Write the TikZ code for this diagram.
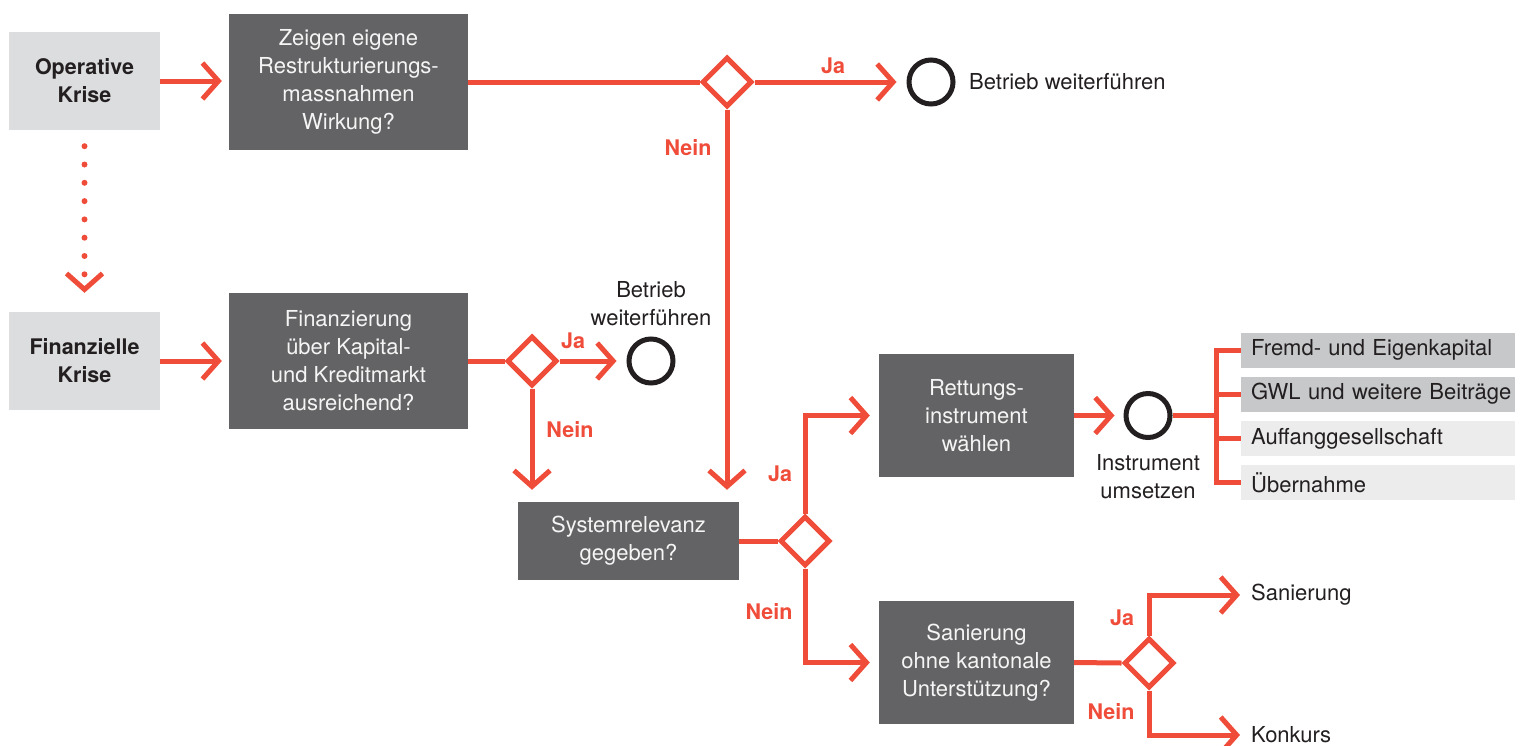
\documentclass[tikz,border=0pt]{standalone}
\usepackage{fontspec}
\setmainfont{TeX Gyre Heros}
\usetikzlibrary{arrows.meta,shapes.geometric}
\definecolor{redc}{RGB}{239,76,58}
\definecolor{darkbox}{RGB}{99,99,101}
\definecolor{lightbox}{RGB}{220,221,223}
\definecolor{midbox}{RGB}{199,200,202}
\definecolor{palebox}{RGB}{236,236,237}
\definecolor{txt}{RGB}{35,31,32}
\definecolor{boxtxt}{RGB}{245,245,245}
\tikzset{
  x=1pt, y=-1pt,
  every node/.style={font=\fontsize{22}{28}\selectfont, text=txt},
  crisis/.style={fill=lightbox, minimum width=151pt, minimum height=98pt, align=center, font=\fontsize{21.5}{28}\selectfont\bfseries, inner sep=0pt},
  qbox/.style={fill=darkbox, align=center, text=boxtxt, inner sep=0pt},
  dec/.style={draw=redc, line width=5pt, shape=diamond, aspect=1, minimum width=50pt, minimum height=50pt, inner sep=0pt, fill=white},
  endc/.style={draw=txt, line width=5pt, circle, minimum size=44pt, inner sep=0pt},
  flow/.style={draw=redc, line width=5pt},
  arr/.style={flow, -{Straight Barb[length=16pt,width=36pt]}},
  yes/.style={text=redc, font=\fontsize{21.5}{28}\selectfont\bfseries, inner sep=0pt},
  opt/.style={anchor=west, minimum height=35pt, inner xsep=10pt, inner ysep=0pt, text width=254pt, align=left},
  plain/.style={inner sep=0pt, align=center},
  dotline/.style={draw=redc, line width=6pt, line cap=round, dash pattern=on 0pt off 18.3pt}
}
\begin{document}
\begin{tikzpicture}
\useasboundingbox (0,0) rectangle (1522,745);
% crisis boxes
\node[crisis] (op) at (84.5,81) {Operative\\Krise};
\node[crisis] (fin) at (84.5,361) {Finanzielle\\Krise};
% question boxes
\node[qbox, minimum width=239pt, minimum height=136pt] (zeig) at (348.5,82) {Zeigen eigene\\Restrukturierungs-\\massnahmen\\Wirkung?};
\node[qbox, minimum width=239pt, minimum height=136pt] (finq) at (348.5,361) {Finanzierung\\über Kapital-\\und Kreditmarkt\\ausreichend?};
\node[qbox, minimum width=221pt, minimum height=78pt] (sys) at (628.5,541) {Systemrelevanz\\gegeben?};
\node[qbox, minimum width=195pt, minimum height=123pt] (rett) at (976.5,415.5) {Rettungs-\\instrument\\wählen};
\node[qbox, minimum width=195pt, minimum height=123pt] (san) at (976.5,662.5) {Sanierung\\ohne kantonale\\Unterstützung?};
% decisions
\node[dec] (d1) at (727,82) {};
\node[dec] (d2) at (532,361) {};
\node[dec] (d3) at (805,541) {};
\node[dec] (d4) at (1149,663) {};
% end circles
\node[endc] (c1) at (931,82) {};
\node[endc] (c2) at (651,361) {};
\node[endc] (c3) at (1148,415.5) {};
% texts
\node[plain, anchor=west] (bw1) at (969,82) {Betrieb weiterführen};
\node[plain] (bw2) at (651,304) {Betrieb\\weiterführen};
\node[plain] (ins) at (1148,477) {Instrument\\umsetzen};
\node[plain, anchor=west] (sant) at (1251,595) {Sanierung};
\node[plain, anchor=west] (konk) at (1251,735) {Konkurs};
% option boxes
\node[opt, fill=midbox] (o1) at (1241,350) {\mbox{Fremd- und Eigenkapital}};
\node[opt, fill=midbox] (o2) at (1241,394) {\mbox{GWL und weitere Beiträge}};
\node[opt, fill=palebox] (o3) at (1241,438.5) {\mbox{Auffanggesellschaft}};
\node[opt, fill=palebox] (o4) at (1241,482.5) {\mbox{Übernahme}};
% labels
\node[yes] (j1) at (833,66) {Ja};
\node[yes] (n1) at (688,148) {Nein};
\node[yes] (j2) at (573,341) {Ja};
\node[yes] (n2) at (570,430) {Nein};
\node[yes] (j3) at (780,474) {Ja};
\node[yes] (n3) at (769,612) {Nein};
\node[yes] (j4) at (1122,618) {Ja};
\node[yes] (n4) at (1111,712) {Nein};
% connectors
\draw[arr, shorten >=7pt] (op.east) -- (zeig.west |- op.east);
\draw[arr, shorten >=7pt] (fin.east) -- (finq.west |- fin.east);
\draw[dotline, -{Straight Barb[length=16pt,width=36pt,line width=5pt,line cap=butt]}, shorten <=16pt, shorten >=19pt] (op.south) -- (fin.north);
\draw[flow] (zeig.east) -- (d1.west);
\draw[arr, shorten >=10pt] (d1.east) -- (c1.west);
\draw[arr, shorten >=12pt] (d1.south) -- (d1.south |- sys.north);
\draw[flow] (finq.east) -- (d2.west);
\draw[arr, shorten >=10pt] (d2.east) -- (c2.west);
\draw[arr, shorten >=12pt] (d2.south) -- (d2.south |- sys.north);
\draw[flow] (sys.east) -- (d3.west);
\draw[arr, shorten >=9pt] (d3.north) |- (rett.west);
\draw[arr, shorten >=9pt] (d3.south) |- (san.west);
\draw[arr, shorten >=9pt] (rett.east) -- (c3.west);
\draw[flow] (c3.east) -- ++(44,0) coordinate (j);
\draw[flow] (j) |- (o1.west);
\draw[flow] (j) |- (o2.west);
\draw[flow] (j) |- (o3.west);
\draw[flow] (j) |- (o4.west);
\draw[flow] (san.east) -- (d4.west);
\draw[arr, shorten >=11pt] (d4.north) |- (sant.west);
\draw[arr, shorten >=11pt] (d4.south) |- (konk.west);
\end{tikzpicture}
\end{document}
